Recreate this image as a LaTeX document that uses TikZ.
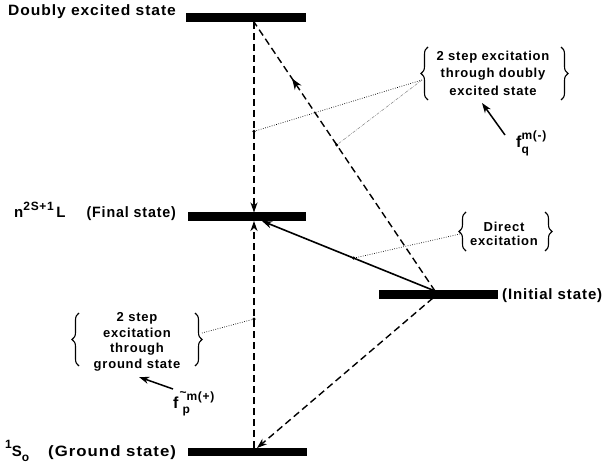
\documentclass[tikz,border=0pt]{standalone}
\usepackage{fontspec}
\usepackage{graphicx}
\setmainfont{Liberation Sans}[LetterSpace=6]
\usetikzlibrary{arrows.meta,decorations.pathreplacing,decorations.markings}
\newcommand\supx[1]{\raisebox{0.5em}{\fontsize{12}{12}\selectfont #1}}
\newcommand\subx[1]{\raisebox{-0.35em}{\fontsize{12}{12}\selectfont #1}}
\begin{document}
\begin{tikzpicture}[x=1pt,y=-1pt,
  bar/.style={fill=black, draw=none, inner sep=0pt, minimum height=9pt},
  lbl/.style={font=\bfseries\fontsize{15}{17}\selectfont, inner sep=0pt, anchor=base west},
  btxt/.style={font=\bfseries\fontsize{13}{#1}\selectfont, align=center, inner sep=0pt},
  dashline/.style={line width=1.4pt, dash pattern=on 7pt off 4pt},
  tip/.style={-{Stealth[length=10pt,width=7pt,inset=3pt]}},
  dotl/.style={line width=0.7pt, dash pattern=on 0.7pt off 1.6pt},
  dotl2/.style={line width=0.5pt, gray, dash pattern=on 3pt off 1.2pt on 0.6pt off 1.2pt},
  dotm/.style={circle, fill=black, inner sep=0pt, minimum size=3.4pt},
  brc/.style={decorate, decoration={brace, amplitude=7pt}, line width=1.1pt}
]
\path[use as bounding box] (0,0) rectangle (605,465);

% level bars
\node[bar, minimum width=120pt] (D) at (246,17.5) {};
\node[bar, minimum width=118pt] (F) at (247,216.5) {};
\node[bar, minimum width=119pt] (I) at (438.5,294.5) {};
\node[bar, minimum width=119pt, minimum height=8pt] (G) at (247.5,452) {};

% attachment points
\coordinate (Dv) at (254,22);
\coordinate (Fa) at (254,212.5);
\coordinate (Fb) at (254,221);
\coordinate (Fr) at (262,221);
\coordinate (Ga) at (254,448);
\coordinate (Gr) at (257,448);
\coordinate (Ir) at (435,291);
\coordinate (Ir2) at (433,298);

% transitions
\draw[dashline, tip] (Dv) -- node[dotm, pos=0.574] (p1) {} (Fa);
\draw[dashline, tip] (Ga) -- node[dotm, pos=0.568] (p3) {} (Fb);
\draw[dashline,
  postaction={decorate},
  decoration={markings, mark=at position 0.79 with {\arrow[line width=1.4pt]{Stealth[length=11pt,width=8pt,inset=3.5pt]}}}]
  (Ir) -- node[dotm, pos=0.543] (p2) {} (Dv);
\draw[line width=1.6pt, tip] (Ir) -- node[dotm, pos=0.47] (p4) {} (Fr);
\draw[dashline, tip] (Ir2) -- (Gr);

% level labels
\node[lbl] (tD) at (8,16) {\scalebox{1.04}[1]{Doubly excited state}};
\node[lbl] (tF) at (14,218) {n\supx{2S+1}\,L\hspace{21pt}\scalebox{0.95}[1]{(Final state)}};
\node[lbl] (tI) at (502,299) {(Initial state)};
\node[lbl] (tG) at (5,456) {\supx{1}S\subx{o}\hspace{19pt}\scalebox{1.12}[1]{(Ground state)}};

% upper brace group
\node[btxt=17.5] (tU) at (493,73) {2 step excitation\\through doubly\\excited state};
\draw[brc] (428,100) -- (428,47);
\draw[brc] (561,47) -- (561,100);
\coordinate (bU) at (422,80);
\draw[dotl] (bU) -- (p1);
\draw[dotl2] (bU) -- (p2);
\node[lbl, font=\bfseries\fontsize{16}{17}\selectfont] (fq) at (516,148) {f\rlap{\subx{q}}\supx{m(-)}};
\coordinate (fqs) at (505,135);
\coordinate (fqe) at (482,103);
\draw[line width=1.5pt, tip] (fqs) -- (fqe);

% direct brace group
\node[btxt=14.5] (tX) at (504,234) {Direct\\excitation};
\draw[brc] (466,251) -- (466,212);
\draw[brc] (545,212) -- (545,251);
\coordinate (bX) at (460,234);
\draw[dotl] (bX) -- (p4);

% ground brace group
\node[btxt=15.5] (tGr) at (137,342) {2 step\\excitation\\through\\ground state};
\draw[brc] (79,366) -- (79,313);
\draw[brc] (195,313) -- (195,366);
\coordinate (bG) at (202,333);
\draw[dotl] (bG) -- (p3);
\node[lbl, font=\bfseries\fontsize{16}{17}\selectfont] (fp) at (173,408) {f\hspace{1pt}\rlap{\hspace{3pt}\subx{p}}\supx{\raisebox{0.3em}{\textasciitilde}m(+)}};
\coordinate (fps) at (173,389);
\coordinate (fpe) at (139,377);
\draw[line width=1.5pt, tip] (fps) -- (fpe);
\end{tikzpicture}
\end{document}
